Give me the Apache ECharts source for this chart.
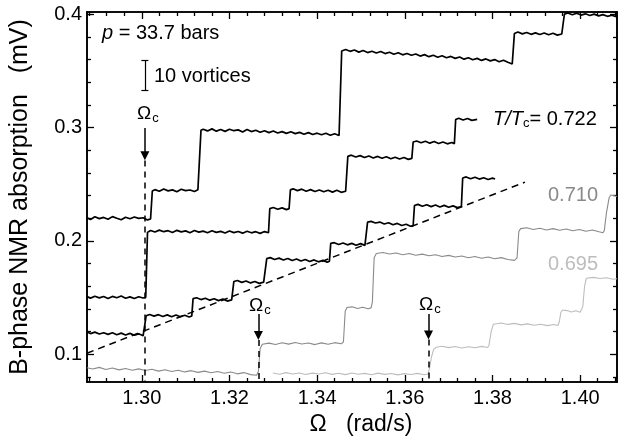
<!DOCTYPE html>
<html><head><meta charset="utf-8">
<script src="https://cdn.jsdelivr.net/npm/echarts@6/dist/echarts.min.js"></script>
<style>html,body{margin:0;padding:0;background:#fff}#c{width:619px;height:445px}</style>
</head><body><div id="c"></div>
<script>
// ---- tick values ----
const xMajorTicks = [1.30, 1.32, 1.34, 1.36, 1.38, 1.40];
const xMinorTicks = [1.288,1.292,1.296,1.304,1.308,1.312,1.316,1.324,1.328,1.332,1.336,1.344,1.348,1.352,1.356,1.364,1.368,1.372,1.376,1.384,1.388,1.392,1.396,1.404,1.408];
const yMajorTicks = [0.1, 0.2, 0.3, 0.4];
const yMinorTicks = [0.08,0.12,0.14,0.16,0.18,0.22,0.24,0.26,0.28,0.32,0.34,0.36,0.38];

// ---- critical velocities and guide line ----
const omegaC = [1.3007, 1.3266, 1.3654];
const guideLine = [[1.2875, 0.1009], [1.3874, 0.2518]];

// ---- T/Tc = 0.722, upper run ----
const run722a = [[1.2875,0.2205],[1.2883,0.2188],[1.2893,0.2212],[1.2903,0.2196],[1.2913,0.2207],[1.2923,0.2190],[1.2933,0.2214],[1.2943,0.2199],[1.2953,0.2186],[1.2963,0.2209],[1.2973,0.2195],[1.2983,0.2211],[1.2993,0.2198],[1.3003,0.2204],[1.3013,0.2185],[1.3020,0.2193],
[1.3024,0.2440],[1.3030,0.2452],[1.3040,0.2437],[1.3050,0.2458],[1.3060,0.2441],[1.3070,0.2450],[1.3080,0.2434],[1.3090,0.2455],[1.3100,0.2443],[1.3110,0.2449],[1.3120,0.2436],[1.3128,0.2452],[1.3131,0.2440],
[1.3135,0.2975],[1.3140,0.2985],[1.3150,0.2970],[1.3160,0.2988],[1.3170,0.2968],[1.3180,0.2982],[1.3190,0.2966],[1.3200,0.2985],[1.3210,0.2972],[1.3220,0.2979],[1.3230,0.2961],[1.3240,0.2983],[1.3250,0.2964],[1.3260,0.2976],[1.3270,0.2958],[1.3280,0.2972],[1.3290,0.2955],[1.3300,0.2969],[1.3310,0.2951],[1.3320,0.2964],[1.3330,0.2948],[1.3340,0.2962],[1.3350,0.2946],[1.3360,0.2957],[1.3370,0.2941],[1.3380,0.2955],[1.3390,0.2938],[1.3400,0.2950],[1.3410,0.2936],[1.3420,0.2949],[1.3430,0.2932],[1.3440,0.2945],[1.3450,0.2930],[1.3453,0.2940],
[1.3456,0.3675],[1.3465,0.3688],[1.3475,0.3672],[1.3485,0.3684],[1.3495,0.3665],[1.3505,0.3679],[1.3515,0.3661],[1.3525,0.3673],[1.3535,0.3657],[1.3545,0.3670],[1.3555,0.3652],[1.3565,0.3664],[1.3575,0.3646],[1.3585,0.3659],[1.3595,0.3641],[1.3605,0.3653],[1.3615,0.3637],[1.3625,0.3649],[1.3635,0.3630],[1.3645,0.3643],[1.3655,0.3625],[1.3665,0.3638],[1.3675,0.3620],[1.3685,0.3633],[1.3695,0.3615],[1.3705,0.3627],[1.3715,0.3610],[1.3725,0.3622],[1.3735,0.3603],[1.3745,0.3616],[1.3755,0.3598],[1.3765,0.3610],[1.3775,0.3592],[1.3785,0.3605],[1.3795,0.3588],[1.3805,0.3599],[1.3815,0.3580],[1.3825,0.3594],[1.3835,0.3575],[1.3845,0.3560],[1.3847,0.3565],
[1.3850,0.3830],[1.3858,0.3842],[1.3868,0.3826],[1.3878,0.3838],[1.3888,0.3822],[1.3898,0.3835],[1.3908,0.3820],[1.3918,0.3834],[1.3928,0.3818],[1.3938,0.3831],[1.3948,0.3815],[1.3958,0.3825],[1.3961,0.3820],
[1.3964,0.4000],[1.3972,0.4010],[1.3982,0.3995],[1.3992,0.4008],[1.4002,0.3992],[1.4012,0.4003],[1.4022,0.3988],[1.4032,0.4000],[1.4042,0.3985],[1.4052,0.3996],[1.4062,0.3981],[1.4072,0.3990],[1.4084,0.3975]];

// ---- T/Tc = 0.722, middle run ----
const run722b = [[1.2875,0.1508],[1.2883,0.1495],[1.2893,0.1512],[1.2903,0.1497],[1.2913,0.1509],[1.2923,0.1492],[1.2933,0.1510],[1.2943,0.1498],[1.2953,0.1513],[1.2963,0.1494],[1.2973,0.1506],[1.2983,0.1491],[1.2993,0.1507],[1.3003,0.1496],[1.3009,0.1502],
[1.3013,0.2075],[1.3020,0.2092],[1.3030,0.2078],[1.3040,0.2095],[1.3050,0.2081],[1.3060,0.2090],[1.3070,0.2074],[1.3080,0.2093],[1.3090,0.2079],[1.3100,0.2088],[1.3110,0.2072],[1.3120,0.2091],[1.3130,0.2077],[1.3140,0.2086],[1.3150,0.2071],[1.3160,0.2089],[1.3170,0.2075],[1.3180,0.2084],[1.3190,0.2069],[1.3200,0.2087],[1.3210,0.2073],[1.3220,0.2083],[1.3230,0.2068],[1.3240,0.2085],[1.3250,0.2071],[1.3260,0.2081],[1.3270,0.2066],[1.3280,0.2082],[1.3289,0.2072],
[1.3292,0.2285],[1.3300,0.2294],[1.3310,0.2279],[1.3320,0.2291],[1.3330,0.2276],[1.3336,0.2284],
[1.3339,0.2450],[1.3345,0.2459],[1.3355,0.2443],[1.3365,0.2456],[1.3375,0.2438],[1.3385,0.2452],[1.3395,0.2435],[1.3405,0.2449],[1.3415,0.2433],[1.3425,0.2447],[1.3435,0.2430],[1.3445,0.2446],[1.3455,0.2428],[1.3465,0.2438],
[1.3470,0.2745],[1.3478,0.2756],[1.3488,0.2740],[1.3498,0.2752],[1.3508,0.2735],[1.3518,0.2749],[1.3528,0.2731],[1.3538,0.2745],[1.3548,0.2729],[1.3558,0.2742],[1.3568,0.2725],[1.3578,0.2738],[1.3588,0.2722],[1.3598,0.2736],[1.3608,0.2719],[1.3616,0.2728],
[1.3619,0.2872],[1.3627,0.2881],[1.3637,0.2866],[1.3647,0.2879],[1.3657,0.2862],[1.3667,0.2876],[1.3677,0.2859],[1.3687,0.2872],[1.3697,0.2856],[1.3707,0.2868],[1.3713,0.2858],
[1.3716,0.3070],[1.3723,0.3082],[1.3733,0.3066],[1.3743,0.3079],[1.3753,0.3063],[1.3765,0.3072]];

// ---- T/Tc = 0.722, lower run ----
const run722c = [[1.2875,0.1196],[1.2883,0.1182],[1.2893,0.1195],[1.2903,0.1178],[1.2913,0.1190],[1.2923,0.1175],[1.2933,0.1189],[1.2943,0.1172],[1.2953,0.1186],[1.2963,0.1170],[1.2973,0.1184],[1.2983,0.1168],[1.2993,0.1180],[1.3003,0.1163],[1.3007,0.1171],
[1.3010,0.1340],[1.3018,0.1351],[1.3028,0.1336],[1.3038,0.1349],[1.3048,0.1333],[1.3058,0.1347],[1.3068,0.1331],[1.3078,0.1346],[1.3088,0.1330],[1.3098,0.1344],[1.3108,0.1328],[1.3114,0.1338],
[1.3117,0.1490],[1.3125,0.1498],[1.3135,0.1482],[1.3145,0.1494],[1.3155,0.1477],[1.3165,0.1490],[1.3175,0.1473],[1.3185,0.1487],[1.3195,0.1469],[1.3205,0.1480],
[1.3210,0.1642],[1.3218,0.1650],[1.3228,0.1634],[1.3238,0.1646],[1.3248,0.1629],[1.3258,0.1642],[1.3268,0.1625],[1.3278,0.1636],[1.3281,0.1628],
[1.3285,0.1843],[1.3293,0.1852],[1.3303,0.1836],[1.3313,0.1848],[1.3323,0.1831],[1.3333,0.1845],[1.3343,0.1827],[1.3353,0.1840],[1.3363,0.1822],[1.3373,0.1836],[1.3383,0.1818],[1.3393,0.1832],[1.3403,0.1815],[1.3413,0.1828],[1.3423,0.1811],[1.3428,0.1820],
[1.3431,0.1978],[1.3439,0.1984],[1.3449,0.1968],[1.3459,0.1981],[1.3469,0.1965],[1.3479,0.1978],[1.3489,0.1962],[1.3499,0.1976],[1.3509,0.1960],[1.3512,0.1968],
[1.3515,0.2165],[1.3523,0.2172],[1.3533,0.2158],[1.3543,0.2166],[1.3553,0.2149],[1.3563,0.2160],[1.3573,0.2142],[1.3583,0.2154],[1.3593,0.2136],[1.3603,0.2147],[1.3613,0.2129],[1.3619,0.2135],
[1.3622,0.2312],[1.3630,0.2322],[1.3640,0.2306],[1.3650,0.2319],[1.3660,0.2302],[1.3670,0.2316],[1.3680,0.2299],[1.3690,0.2313],[1.3700,0.2296],[1.3710,0.2309],[1.3720,0.2293],[1.3729,0.2302],
[1.3732,0.2555],[1.3740,0.2564],[1.3750,0.2548],[1.3760,0.2561],[1.3770,0.2545],[1.3780,0.2557],[1.3790,0.2541],[1.3800,0.2553],[1.3806,0.2546]];

// ---- T/Tc = 0.710 ----
const run710 = [[1.2875,0.0880],[1.2888,0.0869],[1.2903,0.0884],[1.2918,0.0866],[1.2933,0.0878],[1.2948,0.0862],[1.2963,0.0874],[1.2978,0.0859],[1.2993,0.0871],[1.3008,0.0856],[1.3023,0.0867],[1.3038,0.0851],[1.3053,0.0863],[1.3068,0.0848],[1.3083,0.0859],[1.3098,0.0844],[1.3113,0.0855],[1.3128,0.0840],[1.3143,0.0851],[1.3158,0.0836],[1.3173,0.0847],[1.3188,0.0832],[1.3203,0.0843],[1.3218,0.0827],[1.3233,0.0838],[1.3248,0.0820],[1.3262,0.0815],
[1.3266,0.0850],[1.3270,0.1050],[1.3275,0.1088],[1.3290,0.1098],[1.3305,0.1086],[1.3320,0.1101],[1.3335,0.1089],[1.3350,0.1104],[1.3365,0.1090],[1.3380,0.1099],[1.3395,0.1085],[1.3410,0.1100],[1.3425,0.1088],[1.3440,0.1102],[1.3455,0.1092],
[1.3460,0.1110],[1.3464,0.1380],[1.3468,0.1412],[1.3480,0.1418],[1.3492,0.1404],[1.3504,0.1415],[1.3516,0.1401],[1.3523,0.1409],
[1.3526,0.1460],[1.3530,0.1850],[1.3535,0.1888],[1.3550,0.1897],[1.3565,0.1884],[1.3580,0.1893],[1.3595,0.1878],[1.3610,0.1888],[1.3625,0.1873],[1.3640,0.1883],[1.3655,0.1868],[1.3670,0.1878],[1.3685,0.1862],[1.3700,0.1872],[1.3715,0.1858],[1.3730,0.1866],[1.3745,0.1851],[1.3760,0.1862],[1.3775,0.1847],[1.3790,0.1857],[1.3805,0.1842],[1.3820,0.1852],[1.3835,0.1836],[1.3850,0.1828],
[1.3856,0.1850],[1.3860,0.2080],[1.3864,0.2108],[1.3878,0.2116],[1.3893,0.2101],[1.3908,0.2112],[1.3923,0.2096],[1.3938,0.2108],[1.3953,0.2093],[1.3968,0.2104],[1.3983,0.2089],[1.3998,0.2100],[1.4013,0.2085],[1.4028,0.2096],[1.4043,0.2080],[1.4052,0.2072],
[1.4055,0.2090],[1.4060,0.2250],[1.4066,0.2380],[1.4070,0.2405],[1.4078,0.2398],[1.4084,0.2392]];

// ---- T/Tc = 0.695 ----
const run695 = [[1.3299,0.0834],[1.3314,0.0824],[1.3329,0.0838],[1.3344,0.0826],[1.3359,0.0835],[1.3374,0.0821],[1.3389,0.0833],[1.3404,0.0825],[1.3419,0.0837],[1.3434,0.0822],[1.3449,0.0832],[1.3464,0.0820],[1.3479,0.0834],[1.3494,0.0823],[1.3509,0.0831],[1.3524,0.0819],[1.3539,0.0833],[1.3554,0.0822],[1.3569,0.0830],[1.3584,0.0818],[1.3599,0.0829],[1.3614,0.0821],[1.3629,0.0831],[1.3644,0.0819],[1.3653,0.0826],
[1.3656,0.0870],[1.3661,0.0980],[1.3666,0.1045],[1.3672,0.1062],[1.3685,0.1070],[1.3700,0.1058],[1.3715,0.1068],[1.3730,0.1055],[1.3745,0.1066],[1.3760,0.1057],[1.3775,0.1069],[1.3789,0.1060],
[1.3792,0.1080],[1.3797,0.1200],[1.3802,0.1265],[1.3806,0.1278],[1.3820,0.1276],[1.3835,0.1263],[1.3850,0.1272],[1.3865,0.1259],[1.3880,0.1268],[1.3895,0.1255],[1.3910,0.1265],[1.3925,0.1252],[1.3940,0.1262],[1.3949,0.1254],
[1.3952,0.1280],[1.3956,0.1370],[1.3960,0.1390],[1.3970,0.1385],[1.3980,0.1372],[1.3990,0.1384],[1.4000,0.1370],[1.4003,0.1378],
[1.4006,0.1420],[1.4010,0.1600],[1.4014,0.1670],[1.4018,0.1684],[1.4030,0.1678],[1.4045,0.1668],[1.4060,0.1674],[1.4075,0.1662],[1.4084,0.1666]];

// ---- layout / style (not data) ----
const X_MIN = 1.2875, X_MAX = 1.4084, Y_MIN = 0.0755, Y_MAX = 0.4019;
const F = "'Liberation Sans', Arial, Helvetica, sans-serif";
const BLACK = '#000', GREY = '#8a8a8a', LIGHT = '#bdbdbd';

function xAxisDef(pos, ticks, len, main) {
  return {
    type: 'value', position: pos, min: X_MIN, max: X_MAX, gridIndex: 0,
    name: main ? 'Ω   (rad/s)' : '', nameLocation: 'middle', nameGap: 30,
    nameTextStyle: {fontSize: 23, color: BLACK, fontFamily: F, padding: [0, 0, 0, 18]},
    axisLine: {show: true, onZero: false, lineStyle: {color: BLACK, width: 1.6}},
    axisTick: {show: true, inside: true, length: len, customValues: ticks, lineStyle: {color: BLACK, width: 1.3}},
    axisLabel: {show: main, customValues: ticks, margin: 6, fontSize: 20, color: BLACK, fontFamily: F,
      formatter: v => v.toFixed(2)},
    splitLine: {show: false}, minorTick: {show: false}
  };
}
function yAxisDef(pos, ticks, len, main) {
  return {
    type: 'value', position: pos, min: Y_MIN, max: Y_MAX, gridIndex: 0,
    name: main ? 'B-phase NMR absorption   (mV)' : '', nameLocation: 'middle', nameGap: 54, nameRotate: 90,
    nameTextStyle: {fontSize: 25, color: BLACK, fontFamily: F},
    axisLine: {show: true, onZero: false, lineStyle: {color: BLACK, width: 1.6}},
    axisTick: {show: true, inside: true, length: len, customValues: ticks, lineStyle: {color: BLACK, width: 1.3}},
    axisLabel: {show: main, customValues: ticks, margin: 5, fontSize: 20, color: BLACK, fontFamily: F,
      formatter: v => v.toFixed(1)},
    splitLine: {show: false}, minorTick: {show: false}
  };
}
function trace(data, color, w, z) {
  return {type: 'line', data: data, symbol: 'none', showSymbol: false, animation: false,
    lineStyle: {color: color, width: w}, z: z, silent: true};
}

const arrowTop = [0.2995, 0.1355, 0.1355];
const arrowTip = [0.2750, 0.1165, 0.1170];
const arrowLines = [], dashLines = [];
omegaC.forEach((w, i) => {
  arrowLines.push([{coord: [w, arrowTop[i]]}, {coord: [w, arrowTip[i]]}]);
  dashLines.push([{coord: [w, arrowTip[i] - 0.004]}, {coord: [w, Y_MIN]}]);
});
const barX = 1.3007, barLo = 0.3330, barHi = 0.3595, capW = 0.0008;

const chart = echarts.init(document.getElementById('c'), null, {renderer: 'canvas'});
chart.setOption({
  animation: false,
  backgroundColor: '#fff',
  textStyle: {fontFamily: F},
  grid: {left: 87, right: 2, top: 12, bottom: 63, containLabel: false},
  xAxis: [xAxisDef('bottom', xMajorTicks, 7, true), xAxisDef('top', xMajorTicks, 7, false),
          xAxisDef('bottom', xMinorTicks, 4, false), xAxisDef('top', xMinorTicks, 4, false)],
  yAxis: [yAxisDef('left', yMajorTicks, 7, true), yAxisDef('right', yMajorTicks, 7, false),
          yAxisDef('left', yMinorTicks, 4, false), yAxisDef('right', yMinorTicks, 4, false)],
  series: [
    trace(run695, LIGHT, 1.1, 2),
    trace(run710, GREY, 1.1, 3),
    trace(run722c, BLACK, 1.7, 4),
    trace(run722b, BLACK, 1.7, 4),
    trace(run722a, BLACK, 1.7, 4),
    {type: 'line', data: guideLine, symbol: 'none', showSymbol: false, animation: false, z: 5,
      lineStyle: {color: BLACK, width: 1.5, type: [7, 5]}},
    {type: 'line', data: [], symbol: 'none', animation: false, z: 6,
      markLine: {silent: true, animation: false, symbol: ['none', 'triangle'], symbolSize: 9,
        label: {show: false}, lineStyle: {color: BLACK, width: 1.5, type: 'solid'},
        emphasis: {disabled: true}, data: arrowLines}},
    {type: 'line', data: [], symbol: 'none', animation: false, z: 6,
      markLine: {silent: true, animation: false, symbol: ['none', 'none'],
        label: {show: false}, lineStyle: {color: BLACK, width: 1.5, type: [6, 5]},
        emphasis: {disabled: true}, data: dashLines}},
    {type: 'line', data: [], symbol: 'none', animation: false, z: 6,
      markLine: {silent: true, animation: false, symbol: ['none', 'none'],
        label: {show: false}, lineStyle: {color: BLACK, width: 1.2, type: 'solid'},
        emphasis: {disabled: true},
        data: [[{coord: [barX, barLo]}, {coord: [barX, barHi]}],
               [{coord: [barX - capW, barLo]}, {coord: [barX + capW, barLo]}],
               [{coord: [barX - capW, barHi]}, {coord: [barX + capW, barHi]}]]}}
  ],
  graphic: [
    {type: 'text', x: 102, y: 33, silent: true, style: {text: '{i|p} = 33.7 bars', verticalAlign: 'middle',
      fontSize: 20, fontFamily: F, fill: BLACK, rich: {i: {fontStyle: 'italic', fontSize: 20, fontFamily: F}}}},
    {type: 'text', x: 154, y: 76, silent: true, style: {text: '10 vortices', verticalAlign: 'middle',
      fontSize: 20, fontFamily: F, fill: BLACK}},
    {type: 'text', x: 493, y: 119, silent: true, style: {text: '{i|T/T}{s|c}= 0.722', verticalAlign: 'middle',
      fontSize: 20, fontFamily: F, fill: BLACK,
      rich: {i: {fontStyle: 'italic', fontSize: 20, fontFamily: F}, s: {fontSize: 13, fontFamily: F, padding: [9, 0, 0, 0]}}}},
    {type: 'text', x: 548, y: 195, silent: true, style: {text: '0.710', verticalAlign: 'middle',
      fontSize: 20, fontFamily: F, fill: GREY}},
    {type: 'text', x: 548, y: 264, silent: true, style: {text: '0.695', verticalAlign: 'middle',
      fontSize: 20, fontFamily: F, fill: LIGHT}},
    {type: 'text', x: 137, y: 114, silent: true, style: {text: 'Ω{s|c}', verticalAlign: 'middle',
      fontSize: 19, fontFamily: F, fill: BLACK, rich: {s: {fontSize: 13, fontFamily: F, padding: [9, 0, 0, 1]}}}},
    {type: 'text', x: 249, y: 306, silent: true, style: {text: 'Ω{s|c}', verticalAlign: 'middle',
      fontSize: 19, fontFamily: F, fill: BLACK, rich: {s: {fontSize: 13, fontFamily: F, padding: [9, 0, 0, 1]}}}},
    {type: 'text', x: 419, y: 305, silent: true, style: {text: 'Ω{s|c}', verticalAlign: 'middle',
      fontSize: 19, fontFamily: F, fill: BLACK, rich: {s: {fontSize: 13, fontFamily: F, padding: [9, 0, 0, 1]}}}}
  ]
});
</script></body></html>
